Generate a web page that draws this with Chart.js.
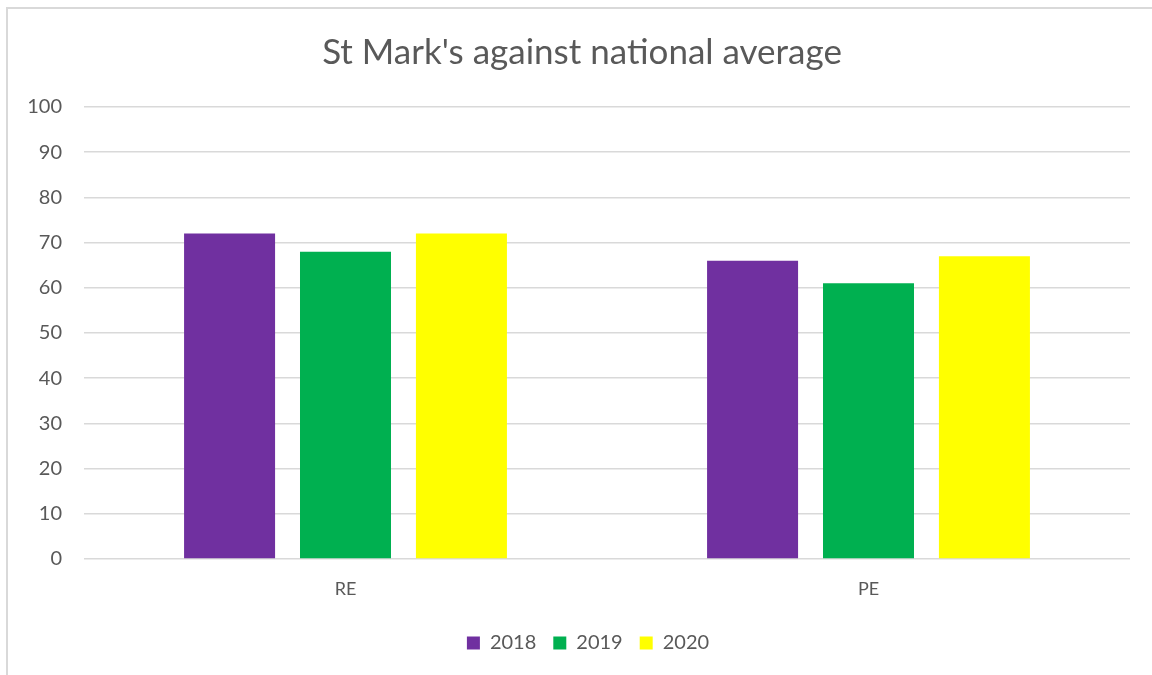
<!DOCTYPE html>
<html>
<head>
<meta charset="utf-8">
<script src="https://cdn.jsdelivr.net/npm/chart.js@4/dist/chart.umd.min.js"></script>
<style>
  html, body { margin: 0; padding: 0; background: #fff; overflow: hidden; }
  #wrap { position: relative; width: 1152px; height: 675px; }
  #frame { position: absolute; left: 6px; top: 7px; width: 1200px; height: 700px; border: 2px solid #d9d9d9; box-sizing: border-box; }
  #chart { position: absolute; left: 0; top: 0; }
</style>
</head>
<body>
<div id="wrap">
  <div id="frame"></div>
  <canvas id="chart" width="1152" height="675"></canvas>
</div>
<script>
const categories = ["RE", "PE"];
const years = ["2018", "2019", "2020"];
const values2018 = [72, 66];
const values2019 = [68, 61];
const values2020 = [72, 67];
const yTicks = [0, 10, 20, 30, 40, 50, 60, 70, 80, 90, 100];
const colours = ["#7030A0", "#00B050", "#FFFF00"];

const textColour = "#595959";
const gridColour = "#d9d9d9";
const font = "Lato, 'Open Sans', 'Liberation Sans', sans-serif";

// title and legend sit centred on the frame, not on the plot
const shiftBoxes = {
    id: "shiftBoxes",
    afterLayout(chart) {
        chart.legend.left += 23;
        chart.legend.right += 23;
        chart.titleBlock.left += 17;
        chart.titleBlock.right += 17;
    }
};

const ctx = document.getElementById("chart").getContext("2d");

new Chart(ctx, {
    type: "bar",
    data: {
        labels: categories,
        datasets: [values2018, values2019, values2020].map((vals, i) => ({
            label: years[i],
            data: vals,
            backgroundColor: colours[i],
            borderWidth: 0,
            categoryPercentage: 0.665,
            barPercentage: 0.785
        }))
    },
    options: {
        responsive: false,
        animation: false,
        layout: { padding: { left: 0, right: 22, top: 0, bottom: 12 } },
        plugins: {
            title: {
                display: true,
                text: "St Mark's against national average",
                color: textColour,
                font: { family: font, size: 35, weight: "normal" },
                padding: { top: 32, bottom: 33 }
            },
            legend: {
                position: "bottom",
                labels: {
                    color: textColour,
                    font: { family: font, size: 20 },
                    boxWidth: 13,
                    boxHeight: 13,
                    padding: 17
                }
            },
            tooltip: { enabled: false }
        },
        scales: {
            x: {
                grid: { display: false },
                border: { display: false },
                ticks: { color: textColour, font: { family: font, size: 18 }, padding: 11 },
                afterFit: s => { s.height = 57; }
            },
            y: {
                min: 0,
                max: 100,
                afterBuildTicks: s => { s.ticks = yTicks.map(v => ({ value: v })); },
                grid: { color: gridColour, lineWidth: 1.5, drawTicks: false },
                border: { display: false },
                ticks: { color: textColour, font: { family: font, size: 20 }, padding: 22 },
                afterFit: s => { s.width = 84; }
            }
        }
    },
    plugins: [shiftBoxes]
});
</script>
</body>
</html>
